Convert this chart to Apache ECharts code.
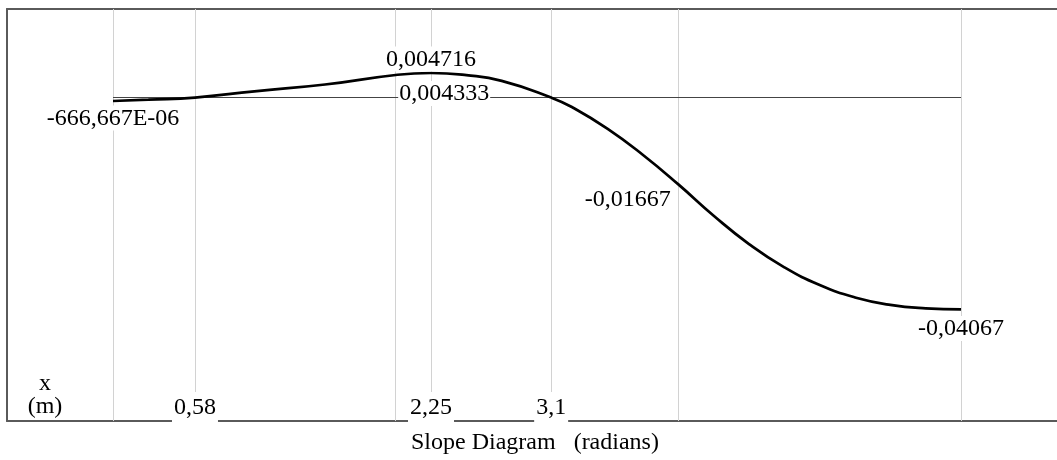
<!DOCTYPE html>
<html>
<head>
<meta charset="utf-8">
<style>
  html, body { margin: 0; padding: 0; background: #fff; }
  #chart { width: 1057px; height: 460px; }
</style>
<script src="https://cdn.jsdelivr.net/npm/echarts@6/dist/echarts.min.js"></script>
</head>
<body>
<div id="chart"></div>
<script>
// Beam slope along its length (x in metres, slope in radians)
const slopeX = [0, 0.25, 0.58, 1.0, 1.5, 2.0, 2.25, 2.5, 2.75, 3.1, 3.25, 3.5, 3.75, 4.0, 4.25, 4.5, 4.75, 5.0, 5.25, 5.5, 5.75, 6.0];
const slopeY = [-0.000666667, -0.0004, 0, 0.0012, 0.0025, 0.004333, 0.004716, 0.0043, 0.0032, 0, -0.00187, -0.00601, -0.01102, -0.01667, -0.02269, -0.02813, -0.03260, -0.03600, -0.03838, -0.03981, -0.04047, -0.04067];

// Stations where the slope value is annotated
const labelledX = [0, 2.0, 2.25, 4.0, 6.0];

// Vertical reference lines and the stations named on the x axis
const gridX = [0, 0.58, 2, 2.25, 3.1, 4, 6];
const tickX = [0.58, 2.25, 3.1];

const titleText = 'Slope Diagram   (radians)';
const axisText = 'x\n(m)';

const FONT = '"Liberation Serif", "Times New Roman", serif';
const FRAME = { color: '#5a5a5a', width: 2 };

function fmtNum(v) {
  if (v !== 0 && Math.abs(v) < 0.001) {
    return (v * 1e6).toFixed(3).replace('.', ',') + 'E-06';
  }
  return Number(v).toPrecision(4).replace('.', ',');
}

// Placement of each value annotation around its point
const labelPlacement = {
  0:    { position: 'bottom', distance: 4 },
  2:    { position: [3, 19], align: 'left', verticalAlign: 'middle' },
  2.25: { position: 'top', distance: 1 },
  4:    { position: [-6, 16], align: 'right', verticalAlign: 'middle' },
  6:    { position: 'bottom', distance: 6 }
};

const curveData = slopeX.map((x, i) => {
  const item = { value: [x, slopeY[i]] };
  if (labelledX.indexOf(x) >= 0) {
    item.label = Object.assign({
      show: true,
      formatter: (d) => fmtNum(d.value[1]),
      color: '#000',
      opacity: 1,
      fontFamily: FONT,
      fontSize: 24,
      lineHeight: 24,
      backgroundColor: '#fff',
      padding: [1, 1, 0, 1]
    }, labelPlacement[x]);
  }
  return item;
});

const X_MIN = -0.75, X_MAX = 6.679;
const hiddenAxisParts = {
  axisTick: { show: false },
  splitLine: { show: false }
};

const chart = echarts.init(document.getElementById('chart'));
chart.setOption({
  animation: false,
  grid: { left: 7, right: 0, top: 9, bottom: 39, show: false },
  xAxis: [
    // bottom frame edge
    Object.assign({
      type: 'value', position: 'bottom', min: X_MIN, max: X_MAX, z: 0,
      axisLine: { show: true, onZero: false, lineStyle: FRAME },
      axisLabel: { show: false }
    }, hiddenAxisParts),
    // station labels sitting on the bottom edge
    Object.assign({
      type: 'value', position: 'bottom', min: X_MIN, max: X_MAX, z: 6,
      axisLine: { show: false },
      axisLabel: {
        inside: true,
        customValues: tickX,
        margin: -1,
        formatter: (v) => String(v).replace('.', ','),
        color: '#000',
        fontFamily: FONT,
        fontSize: 24,
        lineHeight: 24,
        backgroundColor: '#fff',
        padding: [4, 2, 2, 2]
      }
    }, hiddenAxisParts),
    // top frame edge
    Object.assign({
      type: 'value', position: 'top', min: X_MIN, max: X_MAX, z: 0,
      axisLine: { show: true, onZero: false, lineStyle: FRAME },
      axisLabel: { show: false }
    }, hiddenAxisParts)
  ],
  yAxis: Object.assign({
    type: 'value',
    position: 'left',
    min: -0.0621,
    max: 0.017,
    axisLine: { show: true, onZero: false, lineStyle: FRAME },
    axisLabel: { show: false }
  }, hiddenAxisParts),
  graphic: [
    {
      type: 'text',
      x: 45, y: 395.5,
      style: {
        text: axisText,
        font: '24px ' + FONT,
        fill: '#000',
        align: 'center',
        verticalAlign: 'middle',
        lineHeight: 23
      }
    },
    {
      type: 'text',
      x: 411, y: 442.5,
      style: {
        text: titleText,
        font: '24px ' + FONT,
        fill: '#000',
        align: 'left',
        verticalAlign: 'middle'
      }
    }
  ],
  series: [
    {
      // reference lines: verticals at stations and the zero baseline
      type: 'line',
      data: [],
      z: 1,
      silent: true,
      markLine: {
        z: 1,
        silent: true,
        symbol: 'none',
        label: { show: false },
        animation: false,
        data: gridX.map((x) => ({
          xAxis: x,
          lineStyle: { color: '#d2d2d2', width: 1, type: 'solid' }
        })).concat([[
          { coord: [slopeX[0], 0], lineStyle: { color: '#444', width: 1.2, type: 'solid' } },
          { coord: [slopeX[slopeX.length - 1], 0] }
        ]])
      }
    },
    {
      type: 'line',
      z: 3,
      data: curveData,
      smooth: true,
      symbol: 'circle',
      symbolSize: 1,
      showSymbol: true,
      lineStyle: { color: '#000', width: 2.7 },
      itemStyle: { color: 'rgba(0,0,0,0)' },
      label: { show: false },
      labelLayout: { hideOverlap: false }
    }
  ]
});
</script>
</body>
</html>
